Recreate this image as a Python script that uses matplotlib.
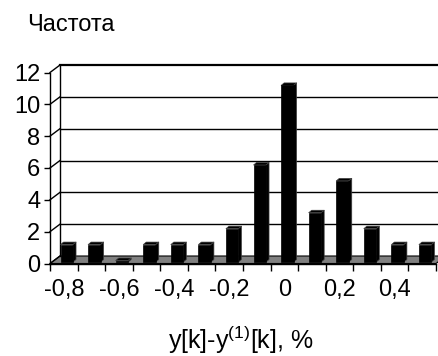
import matplotlib
matplotlib.use("Agg")
import matplotlib.pyplot as plt
from matplotlib.collections import PolyCollection
import matplotlib.patches as mpatches

plt.rcParams["font.family"] = ["Liberation Sans", "DejaVu Sans"]
plt.rcParams["mathtext.fontset"] = "custom"
plt.rcParams["mathtext.rm"] = "Liberation Sans"

# data
bins = [-0.8, -0.7, -0.6, -0.5, -0.4, -0.3, -0.2, -0.1, 0.0, 0.1, 0.2, 0.3, 0.4, 0.5]
counts = [1, 1, 0, 1, 1, 1, 2, 6, 11, 3, 5, 2, 1, 1]
tick_labels = ["-0,8", "-0,6", "-0,4", "-0,2", "0", "0,2", "0,4"]
y_ticks = [0, 2, 4, 6, 8, 10, 12]

W, H = 438, 356
GRAY = "#808080"
FS = 17

fig = plt.figure(figsize=(W / 100, H / 100), dpi=100, facecolor="white")

# front plane of the 3D box, in pixels
x0, x1 = 50, 436
y0, y1 = 263.5, 72.5
ax = fig.add_axes([x0 / W, 1 - y0 / H, (x1 - x0) / W, (y0 - y1) / H])
n = len(bins)
ymax = 12
ax.set_xlim(0, n)
ax.set_ylim(0, ymax)

ux = n / (x1 - x0)      # data units per pixel
uy = ymax / (y0 - y1)

# depth offsets (pixels)
bx, by = 10 * ux, 7.5 * uy      # back wall
fx, fy = 3 * ux, 3 * uy         # bar front face
dx, dy = 3 * ux, 2.5 * uy       # bar depth

# floor
floor = mpatches.Polygon([(0, 0), (n, 0), (n + bx, by), (bx, by)], closed=True,
                         facecolor=GRAY, edgecolor="black", lw=0.8, clip_on=False, zorder=1)
ax.add_patch(floor)

# back wall grid and diagonals
for v in y_ticks:
    lw = 1.6 if v == ymax else 1.0
    if v > 0:
        ax.plot([bx, n + bx], [v + by, v + by], color="black", lw=lw, clip_on=False, zorder=1)
    ax.plot([0, bx], [v, v + by], color="black", lw=1.0, clip_on=False, zorder=1)
ax.plot([bx, bx], [by, ymax + by], color="black", lw=1.0, clip_on=False, zorder=1)

# bars (front faces)
centers = [i + 0.5 + fx for i in range(n)]
bar_w = 12.5 * ux
bars = ax.bar(centers, [c + fy - 1.5 * uy for c in counts], width=bar_w,
              bottom=1.5 * uy, color="black", edgecolor="black", lw=0.5,
              clip_on=False, zorder=3)

# top and side faces
faces = []
for r in bars.patches:
    xl, yb = r.get_x(), r.get_y()
    xr, yt = xl + r.get_width(), yb + r.get_height()
    faces.append([(xl, yt), (xr, yt), (xr + dx, yt + dy), (xl + dx, yt + dy)])
    faces.append([(xr, yb), (xr + dx, yb + dy), (xr + dx, yt + dy), (xr, yt)])
ax.add_collection(PolyCollection(faces, facecolors="black", edgecolors="#404040",
                                 linewidths=0.5, clip_on=False, zorder=2))

# axes
for s in ["top", "right"]:
    ax.spines[s].set_visible(False)
ax.spines["left"].set_linewidth(1.0)
ax.spines["bottom"].set_linewidth(1.0)
ax.set_yticks(y_ticks)
ax.set_yticklabels([str(v) for v in y_ticks])
ax.tick_params(axis="y", direction="out", length=4, width=1, pad=3, labelsize=FS)
ax.set_xticks(range(n + 1))
ax.set_xticklabels([])
ax.set_xticks([0.5 + 2 * i for i in range(len(tick_labels))], minor=True)
ax.set_xticklabels(tick_labels, minor=True)
ax.tick_params(axis="x", which="major", direction="out", length=5, width=1)
ax.tick_params(axis="x", which="minor", length=0, pad=11, labelsize=FS)
ax.set_facecolor("none")

fig.text(27 / W, 1 - 31 / H, "Частота", fontsize=FS, va="baseline", ha="left")
fig.text(241 / W, 1 - 349 / H, "y[k]-y$^{\\mathregular{(1)}}$[k], %", fontsize=18,
         va="baseline", ha="center")

fig.savefig("out.png", dpi=100, facecolor="white")
